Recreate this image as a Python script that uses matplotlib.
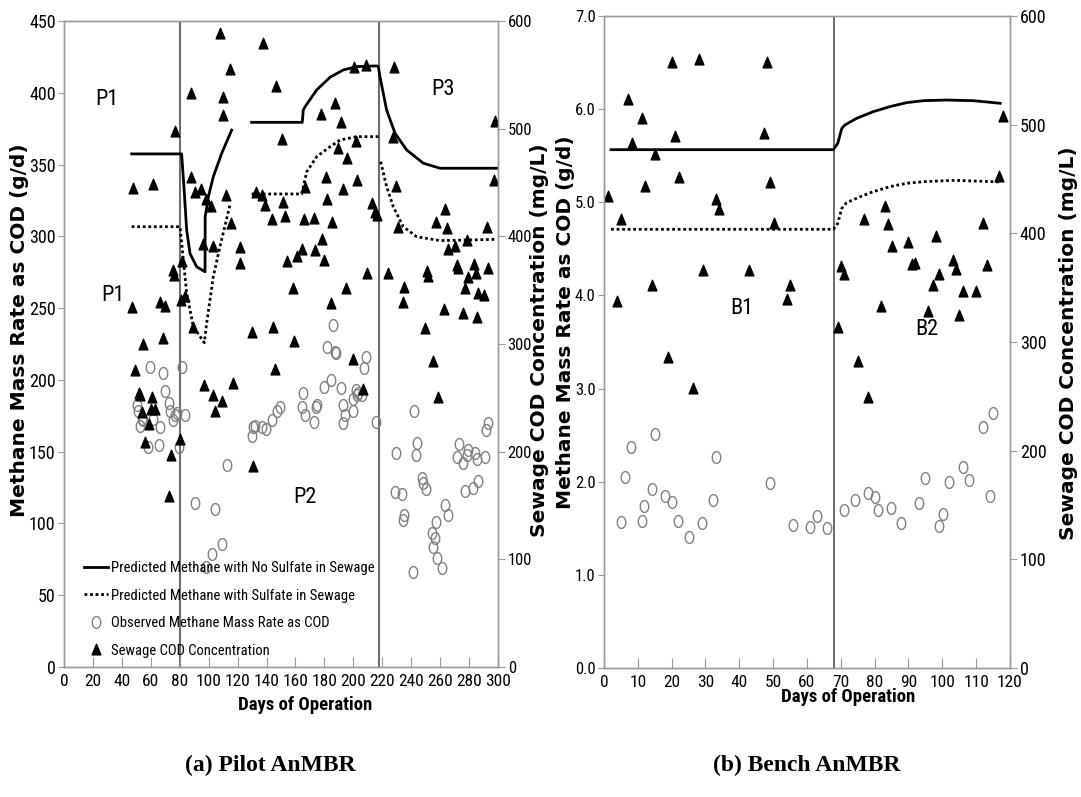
import numpy as np
import matplotlib.pyplot as plt
from matplotlib.path import Path
from matplotlib.ticker import FormatStrFormatter

NARROW = ['Roboto Condensed', 'Liberation Sans Narrow', 'Liberation Sans']
WIDE = ['DejaVu Sans']
SERIF = ['Liberation Serif', 'DejaVu Serif']

# ---- pilot AnMBR ----
pilot_cod_day = [47.5, 61.6, 76.7, 46.8, 66.4, 69.8, 54.7, 68.5, 49, 51.5, 52.5, 61, 53.7, 60, 63,
                 58.8, 56, 74, 80, 72.6, 75, 75.8, 81.6, 83.6, 80.6,
                 88, 87.8, 90.5, 94.7, 97.9, 101.6, 107.8, 109.7, 109.7, 114.7, 111.7, 115.4, 122, 121.6,
                 96, 103, 89, 129.7, 96.8, 102.7, 104.6, 109, 116.6, 130.9,
                 132.5, 136.6, 138.9, 137.3, 146.5, 150.7, 151.6, 144, 152.8, 165.9, 172.8, 166.6, 177.6,
                 187.3, 191.5, 189.2, 195.4, 201.8, 200.5, 208.7, 181, 181.6, 185.5, 192.6, 202.3, 213,
                 215, 216.6, 178.6, 164.3, 173.5, 160.8, 179.7, 153.9, 209.2, 158.5, 194.7, 184.6, 144.7,
                 159.2, 145.9, 199.5, 206.5,
                 228.3, 227.6, 229.3, 230.6, 263.4, 257.1, 264.5, 292.6, 297.9, 297.2, 278.3, 270.3, 265.4,
                 271.4, 272.6, 283.4, 284.8, 293, 279.5, 250.7, 251.4, 223.7, 235.3, 234.6, 277.2, 286.4,
                 290.5, 262.7, 276, 285.3, 249.5, 255.3, 258.7]
pilot_cod = [444, 448, 497, 333, 338, 334, 299, 305, 275, 254, 252, 250, 236, 239, 239,
             225, 208, 196, 211, 158, 368, 363, 376, 344, 340,
             454, 532, 440, 443, 434, 427, 588, 528, 512, 554, 437, 411, 389, 374,
             392, 390, 315, 310, 261, 252, 237, 246, 263, 186,
             440, 437, 428, 579, 539, 489, 431, 415, 418, 415, 416, 445, 513,
             523, 505, 481, 472, 488, 556, 558, 454, 434, 412, 443, 451, 430,
             422, 419, 397, 387, 386, 381, 377, 376, 365, 351, 351, 337, 315,
             302, 276, 285, 257,
             556, 491, 446, 408, 424, 412, 407, 408, 506, 451, 396, 390, 387,
             372, 370, 373, 365, 370, 361, 367, 362, 365, 352, 338, 351, 346,
             345, 332, 328, 324, 314, 283, 250]

pilot_ch4_day = [59.4, 68.7, 81.8, 69.8, 50.2, 51.4, 53.7, 52.5, 54.8, 61.7, 66.4, 72.6, 73.3, 76.7,
                 75.6, 77.9, 83.6, 58.3, 65.7, 79.7, 112.4, 90.5, 104.4, 102, 109, 98,
                 129.7, 130.9, 132, 136.6, 139.6, 144, 147, 149.3, 164.3, 165.4, 166.6, 172.8, 174.2,
                 175.1, 179.7, 184.6, 186.2, 181.6, 187.3, 188, 191.2, 192.6, 194.2, 193.1, 200, 199.5,
                 201.8, 202.8, 203.4, 205.7, 207.4, 208.5, 215.4,
                 229.5, 228.8, 233.4, 235.2, 234.5, 241.9, 241.5, 243.8, 243.3, 247.2, 248, 250.2, 254.1,
                 256.4, 255.3, 257.6, 257.1, 261, 263.4, 265.2, 271.4, 273.2, 275.6, 278.4, 279.5, 277.2,
                 283, 285.9, 284.1, 285.2, 291, 291.5, 293.3]
pilot_ch4 = [209, 205, 209, 192, 182.5, 178, 173, 168, 172, 173, 167, 184, 178, 175.5,
             172, 177, 175.5, 153.5, 154.6, 153.5, 140.7, 114, 110, 79, 86, 70,
             161, 167.4, 168, 167, 166, 172, 178, 181, 181, 190.6, 175.5, 171, 181,
             182.5, 195, 200, 238, 223, 219.6, 218.5, 194, 182.5, 175.5, 170, 178, 186.5,
             193, 189.5, 190.6, 189.5, 208, 216, 171,
             149, 122, 120.5, 106, 102.4, 178, 66, 156, 147.7, 131.4, 128, 123.8, 93,
             89.7, 83.8, 75.7, 101, 68.8, 112.8, 105.9, 146.5, 155.3, 142, 147.7, 151, 122.8,
             124.5, 129.8, 148.9, 144.7, 146.5, 165, 170]

# predicted methane, phases separated by nan
pilot_nosulf_day = [46.8, 81.3, 82.9, 84.8, 87.1, 91.7, 97.5, 97.6, 99.8, 103.2, 109, 115.9, np.nan,
                    129.7, 164.7, 165.4, 167, 174.7, 183.9, 193.1, 202.3, 216.1, 217.3,
                    218.4, 223, 228.8, 236.9, 248.4, 259.9, 299.1]
pilot_nosulf = [357.4, 357.4, 334.6, 304.4, 288, 278.8, 275.3, 313.7, 327.6, 341.5, 357.8, 374, np.nan,
                379.4, 379.4, 388, 390.8, 402, 410.8, 415.9, 418.2, 418.7, 418.2,
                411.2, 388, 371.8, 360.1, 350.9, 347.4, 347.4]
pilot_sulf_day = [46.8, 80.2, 82.5, 84.8, 89.4, 97, 98.6, 103.2, 107.8, 114.7, np.nan,
                  129.7, 164.3, 167.8, 174.7, 183.9, 190.8, 202.3, 217.3, np.nan,
                  218.9, 223, 227.6, 234.5, 243.8, 259.9, 299.1]
pilot_sulf = [306.7, 306.7, 283.5, 260.3, 237, 225.9, 239.4, 271.9, 292.8, 321.8, np.nan,
              329.5, 329.5, 345, 355.5, 362.4, 367.1, 369.4, 369.4, np.nan,
              352, 334.6, 320.6, 306.7, 299.7, 297, 297.9]
pilot_phase_days = [80, 217.5]

# ---- bench AnMBR ----
bench_cod_day = [1.1, 4, 5, 7.2, 8.2, 11.1, 12.1, 14.3, 15.1, 20.1, 21, 22.2, 28, 29.2, 33.2, 34.1,
                 43, 47.2, 48.1, 49, 50.2, 54.1, 55.1, 19, 26.2,
                 69.1, 70, 70.9, 75, 78.1, 77, 81.9, 83.1, 84, 85, 90, 91, 91.9, 95.9, 97.2, 98.1,
                 99.1, 103.1, 104, 105, 106.2, 109.9, 111.9, 113.1, 116.8, 118]
bench_cod = [433.7, 337, 412, 523, 482, 505, 443, 351.5, 472, 557, 489, 450.6, 559.5, 365.6, 430.6, 421.5,
             365.6, 491, 557, 446.6, 408.6, 338.6, 351.8, 285, 256.5,
             313, 369, 361.6, 282, 248.7, 412, 332.5, 424.5, 407.6, 387, 390.8, 370.8, 371.8, 328, 351.8, 396.3,
             361.3, 374.5, 366.2, 324, 345.7, 345.7, 408.6, 370, 451.5, 507]

bench_ch4_day = [4.9, 6.2, 7.9, 11.1, 11.9, 14.1, 15.1, 18.1, 20.1, 22, 25.1, 29.1, 32.1, 33, 49.1,
                 56, 60.9, 63, 66, 70.9, 74.1, 78.1, 80, 81.1, 84.9, 87.8, 93.1, 94.9, 99, 100.1,
                 102, 106, 108, 111.9, 114.1, 115.1]
bench_ch4 = [1.571, 2.054, 2.369, 1.582, 1.743, 1.918, 2.509, 1.847, 1.786, 1.582, 1.41, 1.553, 1.804,
             2.269, 1.983, 1.535, 1.517, 1.635, 1.5, 1.696, 1.804, 1.882, 1.833, 1.696, 1.721, 1.553,
             1.768, 2.037, 1.525, 1.653, 2.0, 2.155, 2.018, 2.584, 1.847, 2.741]

bench_nosulf_day = [2.1, 67.8, 69.1, 70.3, 71.2, 74.7, 79.6, 84.5, 89.5, 94.4, 101.3, 109.2, 117.1]
bench_nosulf = [5.565, 5.565, 5.633, 5.794, 5.83, 5.902, 5.973, 6.027, 6.07, 6.091, 6.098, 6.091, 6.063]
bench_sulf_day = [2.1, 67.8, 69.1, 70.3, 71.7, 75.7, 79.6, 84.5, 89.5, 94.4, 103.3, 109.2, 117.1]
bench_sulf = [4.71, 4.71, 4.774, 4.935, 4.996, 5.06, 5.114, 5.168, 5.204, 5.221, 5.236, 5.229, 5.218]
bench_phase_days = [68]

# squashed marker shapes
ang = np.linspace(0, 2 * np.pi, 41)
oval = Path(np.column_stack([0.72 * np.cos(ang), np.sin(ang)]))
tri = Path([[-0.7, -0.7], [0.7, -0.7], [0, 1.0], [-0.7, -0.7]], closed=True)

DOT = (0, (1, 1))
SPINE = '#9a9a9a'

fig = plt.figure(figsize=(10.81, 7.97), dpi=100)
ax1 = fig.add_axes([0.0592, 0.1631, 0.4015, 0.8106])
ax2 = fig.add_axes([0.5587, 0.1619, 0.3756, 0.8180])
ax1r = ax1.twinx()
ax2r = ax2.twinx()


def style(ax, axr, xmax, xstep, ymax, ystep, yfmt, lsize, rsize):
    ax.set_xlim(0, xmax)
    ax.set_ylim(0, ymax)
    axr.set_ylim(0, 600)
    ax.set_xticks(np.arange(0, xmax + 1, xstep))
    ax.set_yticks(np.arange(0, ymax + ystep / 2, ystep))
    axr.set_yticks(np.arange(0, 601, 100))
    ax.yaxis.set_major_formatter(FormatStrFormatter(yfmt))
    for a in (ax, axr):
        for s in a.spines.values():
            s.set_color(SPINE)
            s.set_linewidth(1.0)
    ax.tick_params(axis='x', direction='in', length=7, color=SPINE, pad=5, labelsize=12.5)
    ax.tick_params(axis='y', direction='out', length=4, color=SPINE, pad=2, labelsize=lsize)
    axr.tick_params(axis='y', direction='out', length=5, color=SPINE, pad=2, labelsize=rsize)
    for lab in ax.get_xticklabels() + ax.get_yticklabels() + axr.get_yticklabels():
        lab.set_family(NARROW)


style(ax1, ax1r, 300, 20, 450, 50, '%d', 13, 12)
style(ax2, ax2r, 120, 10, 7, 1, '%.1f', 12, 13)

# pilot
for d in pilot_phase_days:
    ax1.axvline(d, color='#6e6e6e', lw=1.5, zorder=1)
ln1, = ax1.plot(pilot_nosulf_day, pilot_nosulf, color='black', lw=2,
                label='Predicted Methane with No Sulfate in Sewage')
ln2, = ax1.plot(pilot_sulf_day, pilot_sulf, color='black', lw=2, ls=DOT,
                label='Predicted Methane with Sulfate in Sewage')
ob, = ax1.plot(pilot_ch4_day, pilot_ch4, ls='none', marker=oval, ms=8.5, mfc='none',
               mec='#808080', mew=1.0, label='Observed Methane Mass Rate as COD')
cd, = ax1r.plot(pilot_cod_day, pilot_cod, ls='none', marker=tri, ms=9, color='black',
                label='Sewage COD Concentration')

for txt, x, y in [('P1', 29.7, 395), ('P1', 34, 259), ('P2', 166.6, 118), ('P3', 262, 402)]:
    ax1.text(x, y, txt, ha='center', va='center', fontsize=16, family=NARROW)

leg = ax1r.legend(handles=[ln1, ln2, ob, cd], loc='lower left', bbox_to_anchor=(0.025, 0.0),
                  frameon=False, handlelength=1.7, handletextpad=0.15, labelspacing=0.95,
                  borderaxespad=0.2, prop={'family': NARROW, 'size': 10.5})

# bench
for d in bench_phase_days:
    ax2.axvline(d, color='#505050', lw=1.2, zorder=1)
ax2.plot(bench_nosulf_day, bench_nosulf, color='black', lw=2)
ax2.plot(bench_sulf_day, bench_sulf, color='black', lw=2, ls=DOT)
ax2.plot(bench_ch4_day, bench_ch4, ls='none', marker=oval, ms=8.5, mfc='none', mec='#808080', mew=1.0)
ax2r.plot(bench_cod_day, bench_cod, ls='none', marker=tri, ms=9, color='black')
ax2.text(40.8, 3.86, 'B1', ha='center', va='center', fontsize=16, family=NARROW)
ax2.text(95.5, 3.63, 'B2', ha='center', va='center', fontsize=16, family=NARROW)

# axis titles
ylab = dict(rotation=90, ha='center', va='center', fontsize=14.5, fontweight='bold', family=WIDE)
fig.text(20 / 1081, 1 - 330 / 797, 'Methane Mass Rate as COD (g/d)', **ylab)
fig.text(539.5 / 1081, 1 - 340 / 797, 'Sewage COD Concentration (mg/L)', **ylab)
fig.text(565.5 / 1081, 1 - 322 / 797, 'Methane Mass Rate as COD (g/d)', **ylab)
fig.text(1068 / 1081, 1 - 343 / 797, 'Sewage COD Concentration (mg/L)', **ylab)

xlab = dict(ha='center', va='center', fontsize=13.5, fontweight='bold', family=NARROW)
fig.text(305 / 1081, 1 - 705 / 797, 'Days of Operation', **xlab)
fig.text(848 / 1081, 1 - 697 / 797, 'Days of Operation', **xlab)

cap = dict(ha='center', va='center', fontsize=17, fontweight='bold', family=SERIF)
fig.text(270 / 1081, 1 - 765 / 797, '(a) Pilot AnMBR', **cap)
fig.text(807 / 1081, 1 - 765 / 797, '(b) Bench AnMBR', **cap)

fig.savefig('out.png', dpi=100, facecolor='white')
